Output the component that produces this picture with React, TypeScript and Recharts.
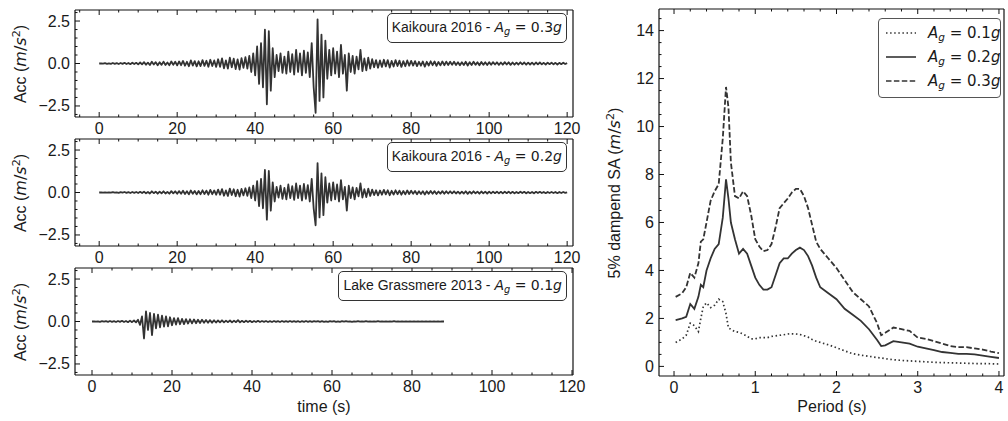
import React from "react";
import { LineChart, Line, XAxis, YAxis } from "recharts";

// sampling step of the acceleration records (s)
const DT = 0.5;

// Kaikoura 2016, scaled to PGA 0.3g (m/s^2)
const kaikoura03 = [
  0, 0.01, -0.01, 0.02, -0.02, 0.01, -0.02, 0.03, -0.02, 0.02, -0.03, 0.03, -0.02, 0.04, -0.03, 0.03, -0.04, 0.05, -0.03, 0.04, -0.05,
  0.06, -0.05, 0.08, -0.07, 0.05, -0.09, 0.1, -0.06, 0.08, -0.1, 0.07, -0.08, 0.11, -0.09, 0.06, -0.1, 0.12, -0.08, 0.1, -0.11,
  0.12, -0.1, 0.15, -0.13, 0.1, -0.16, 0.18, -0.12, 0.14, -0.17, 0.13, -0.15, 0.2, -0.14, 0.16, -0.19, 0.22, -0.15, 0.18, -0.2,
  0.25, -0.2, 0.3, -0.28, 0.18, -0.3, 0.35, -0.22, 0.28, -0.33, 0.24, -0.36, 0.32, -0.25, 0.38, -0.3,
  0.45, -0.5, 0.6, -0.7,
  1.0, -1.2, 1.2, -1.4, 2.0, -2.4, 1.9, -1.6, 0.9, -0.8,
  0.5, -0.45, 0.6, -0.55, 0.4, -0.6, 0.7, -0.5, 0.55, -0.65, 0.8, -0.5, 0.6, -0.7, 0.75, -0.55, 0.65, -0.8, 1.2, -1.4,
  -2.9, 2.6, -2.2, 1.7, -2.0, 1.35,
  -0.9, 0.8, -0.7, 0.9, -0.6, 0.7, -0.8, 1.1, -0.6, 0.5, -1.6, 0.6,
  -0.5, 0.45, -0.6, 0.4, -0.35, 0.8, -0.45, 0.3, -0.4, 0.35, -0.3, 0.25,
  -0.22, 0.2, -0.25, 0.18, -0.2, 0.22, -0.17, 0.2, -0.24, 0.15, -0.18, 0.2, -0.15, 0.17, -0.2, 0.14, -0.16, 0.18, -0.13, 0.15,
  -0.12, 0.14, -0.15, 0.1, -0.13, 0.12, -0.18, 0.1, -0.12, 0.13, -0.1, 0.12, -0.14, 0.09, -0.11, 0.12, -0.1, 0.11, -0.09, 0.1,
  -0.08, 0.1, -0.09, 0.07, -0.1, 0.08, -0.09, 0.1, -0.12, 0.08, -0.09, 0.1, -0.08, 0.07, -0.1, 0.09, -0.08, 0.07, -0.09, 0.08,
  -0.07, 0.08, -0.06, 0.07, -0.08, 0.06, -0.07, 0.08, -0.06, 0.07, -0.08, 0.06, -0.07, 0.05, -0.06, 0.07, -0.05, 0.06, -0.07, 0.05,
  -0.06, 0.05, -0.07, 0.06, -0.05, 0.06, -0.05, 0.04, -0.06, 0.05, -0.04, 0.05, -0.05, 0.04, -0.06, 0.04, -0.04, 0.05, -0.03, 0.02,
];

// Kaikoura 2016, scaled to PGA 0.2g (m/s^2)
const kaikoura02 = [
  0, 0.01, -0.01, 0.01, -0.01, 0.01, -0.01, 0.02, -0.01, 0.01, -0.02, 0.02, -0.01, 0.03, -0.02, 0.02, -0.03, 0.03, -0.02, 0.03, -0.03,
  0.04, -0.03, 0.05, -0.05, 0.03, -0.06, 0.07, -0.04, 0.05, -0.07, 0.05, -0.05, 0.07, -0.06, 0.04, -0.07, 0.08, -0.05, 0.07, -0.07,
  0.08, -0.07, 0.1, -0.09, 0.07, -0.11, 0.12, -0.08, 0.09, -0.11, 0.09, -0.1, 0.13, -0.09, 0.11, -0.13, 0.15, -0.1, 0.12, -0.13,
  0.17, -0.13, 0.2, -0.19, 0.12, -0.2, 0.23, -0.15, 0.19, -0.22, 0.16, -0.24, 0.21, -0.17, 0.25, -0.2,
  0.3, -0.33, 0.4, -0.47,
  0.67, -0.8, 0.8, -0.93, 1.33, -1.6, 1.27, -1.07, 0.6, -0.53,
  0.33, -0.3, 0.4, -0.37, 0.27, -0.4, 0.47, -0.33, 0.37, -0.43, 0.53, -0.33, 0.4, -0.47, 0.5, -0.37, 0.43, -0.53, 0.8, -0.93,
  -1.93, 1.73, -1.47, 1.13, -1.33, 0.9,
  -0.6, 0.53, -0.47, 0.6, -0.4, 0.47, -0.53, 0.73, -0.4, 0.33, -1.07, 0.4,
  -0.33, 0.3, -0.4, 0.27, -0.23, 0.53, -0.3, 0.2, -0.27, 0.23, -0.2, 0.17,
  -0.15, 0.13, -0.17, 0.12, -0.13, 0.15, -0.11, 0.13, -0.16, 0.1, -0.12, 0.13, -0.1, 0.11, -0.13, 0.09, -0.11, 0.12, -0.09, 0.1,
  -0.08, 0.09, -0.1, 0.07, -0.09, 0.08, -0.12, 0.07, -0.08, 0.09, -0.07, 0.08, -0.09, 0.06, -0.07, 0.08, -0.07, 0.07, -0.06, 0.07,
  -0.05, 0.07, -0.06, 0.05, -0.07, 0.05, -0.06, 0.07, -0.08, 0.05, -0.06, 0.07, -0.05, 0.05, -0.07, 0.06, -0.05, 0.05, -0.06, 0.05,
  -0.05, 0.05, -0.04, 0.05, -0.05, 0.04, -0.05, 0.05, -0.04, 0.05, -0.05, 0.04, -0.05, 0.03, -0.04, 0.05, -0.03, 0.04, -0.05, 0.03,
  -0.04, 0.03, -0.05, 0.04, -0.03, 0.04, -0.03, 0.03, -0.04, 0.03, -0.03, 0.03, -0.03, 0.03, -0.04, 0.03, -0.03, 0.03, -0.02, 0.01,
];

// Lake Grassmere 2013, scaled to PGA 0.1g (m/s^2)
const grassmere01 = [
  0, 0.01, -0.01, 0.01, -0.02, 0.02, -0.01, 0.02, -0.02, 0.03, -0.02, 0.02, -0.03, 0.03, -0.02, 0.04, -0.03, 0.03, -0.04, 0.05, -0.04, 0.06, -0.05,
  0.1, -0.2, 0.3,
  -1.0, 0.6, -0.5, 0.5, -0.8,
  0.45, -0.4, 0.4, -0.35, 0.35, -0.3, 0.3, -0.28, 0.25, -0.22,
  0.2, -0.18, 0.2, -0.16, 0.15, -0.15, 0.14, -0.12, 0.13, -0.11, 0.12, -0.1, 0.1, -0.09, 0.1, -0.08, 0.09, -0.07, 0.08, -0.07,
  0.07, -0.06, 0.06, -0.05, 0.07, -0.05, 0.05, -0.04, 0.06, -0.05, 0.05, -0.04, 0.08, -0.05, 0.04, -0.04, 0.05, -0.03, 0.04, -0.04,
  0.03, -0.03, 0.04, -0.03, 0.03, -0.02, 0.03, -0.03, 0.02, -0.03, 0.03, -0.02,
  0.02, -0.03, 0.03, -0.02, 0.02, -0.02, 0.03, -0.02, 0.02, -0.02, 0.02, -0.03,
  0.02, -0.02, 0.03, -0.02, 0.02, -0.02, 0.02, -0.01, 0.02, -0.02, 0.02, -0.02,
  0.01, -0.02, 0.02, -0.01, 0.02, -0.02, 0.01, -0.02, 0.02, -0.01, 0.02, -0.01,
  0.01, -0.02, 0.01, -0.01, 0.02, -0.01, 0.01, -0.01, 0.02, -0.01, 0.01, -0.01,
  0.01, -0.01, 0.02, -0.01, 0.01, -0.01, 0.01, -0.01, 0.01, -0.01, 0.02, -0.01,
  0.01, -0.01, 0.01, -0.01, 0.01, -0.01, 0.01, -0.01, 0.01, -0.01, 0.01, -0.01,
  0.01, -0.01, 0.01, -0.01, 0.01, -0.01, 0.01, -0.01, 0.01, -0.01, 0.01, 0,
];

// 5% damped response spectra (m/s^2)
const periods = [
  0.02, 0.1, 0.15, 0.2, 0.25, 0.3, 0.33, 0.36, 0.4, 0.45, 0.5, 0.55, 0.6, 0.64, 0.67, 0.7, 0.75, 0.8, 0.85, 0.9, 0.95,
  1.0, 1.05, 1.1, 1.15, 1.2, 1.25, 1.3, 1.35, 1.4, 1.45, 1.5, 1.55, 1.6, 1.65, 1.7, 1.75, 1.8, 1.9, 2.0, 2.1,
  2.2, 2.3, 2.4, 2.5, 2.55, 2.6, 2.7, 2.8, 2.9, 3.0, 3.1, 3.2, 3.3, 3.4, 3.5, 3.6, 3.7, 3.8, 3.9, 4.0,
];
const sa01 = [
  1.0, 1.15, 1.3, 1.8, 1.7, 1.45, 2.0, 2.5, 2.65, 2.45, 2.55, 2.8, 2.7, 2.2, 1.6, 1.55, 1.45, 1.42, 1.35, 1.25, 1.15,
  1.15, 1.2, 1.2, 1.2, 1.25, 1.27, 1.3, 1.32, 1.35, 1.36, 1.35, 1.33, 1.28, 1.22, 1.12, 1.05, 1.0, 0.9, 0.78, 0.65,
  0.53, 0.47, 0.42, 0.37, 0.35, 0.32, 0.28, 0.25, 0.23, 0.21, 0.19, 0.17, 0.16, 0.15, 0.14, 0.13, 0.12, 0.12, 0.11, 0.1,
];
const sa02 = [
  1.93, 2.0, 2.07, 2.6, 2.4, 2.9, 3.4, 3.3, 4.0, 4.5, 4.9, 5.1, 6.2, 7.8, 7.0, 6.0, 5.3, 4.7, 4.9, 4.7, 4.2,
  3.7, 3.4, 3.2, 3.2, 3.3, 3.8, 4.3, 4.5, 4.5, 4.7, 4.85, 4.95, 4.85, 4.6, 4.2, 3.7, 3.3, 3.05, 2.8, 2.4,
  2.15, 1.9, 1.55, 1.1, 0.85, 0.88, 1.05, 1.0, 0.95, 0.82, 0.75, 0.68, 0.6, 0.56, 0.52, 0.52, 0.5, 0.45, 0.4, 0.35,
];
const sa03 = [
  2.9, 3.05, 3.3, 3.9, 3.7, 4.3, 5.2, 5.3, 6.0, 6.9, 7.3, 7.6, 9.5, 11.65, 10.8, 8.5, 7.1, 7.0, 7.3, 7.1, 6.3,
  5.3, 5.0, 4.8, 4.85, 5.1, 5.8, 6.6, 6.8, 7.0, 7.25, 7.4, 7.4, 7.1, 6.6, 5.9, 5.2, 4.9, 4.5, 4.1, 3.6,
  3.1, 2.8, 2.5, 1.8, 1.3, 1.4, 1.62, 1.55, 1.48, 1.2, 1.15, 1.05, 0.95, 0.85, 0.8, 0.8, 0.75, 0.7, 0.62, 0.55,
];

// tick positions
const timeMajor = [0, 20, 40, 60, 80, 100, 120];
const timeMinor = [-5, 0, 5, 10, 15, 20, 25, 30, 35, 40, 45, 50, 55, 60, 65, 70, 75, 80, 85, 90, 95, 100, 105, 110, 115, 120];
const accMajor = [-2.5, 0, 2.5];
const accMinor = [-3, -2.5, -2, -1.5, -1, -0.5, 0, 0.5, 1, 1.5, 2, 2.5, 3];
const periodMajor = [0, 1, 2, 3, 4];
const periodMinor = [0, 0.2, 0.4, 0.6, 0.8, 1, 1.2, 1.4, 1.6, 1.8, 2, 2.2, 2.4, 2.6, 2.8, 3, 3.2, 3.4, 3.6, 3.8, 4];
const saMajor = [0, 2, 4, 6, 8, 10, 12, 14];
const saMinor = [
  0, 0.5, 1, 1.5, 2, 2.5, 3, 3.5, 4, 4.5, 5, 5.5, 6, 6.5, 7, 7.5, 8, 8.5, 9, 9.5, 10, 10.5, 11, 11.5, 12, 12.5, 13, 13.5, 14, 14.5,
];

const INK = "#333333";
const FRAME = "#111111";
const SANS = "'Liberation Sans', Arial, sans-serif";
const MATH = "'DejaVu Sans', sans-serif";

const toSeries = (values: number[]) => values.map((a, i) => ({ t: i * DT, a }));
const spectrum = periods.map((T, i) => ({ T, s1: sa01[i], s2: sa02[i], s3: sa03[i] }));

type Side = "bottom" | "top" | "left" | "right";

// inward ticks (matplotlib style) drawn from the axis position; labels only on bottom/left majors
function frameTick(side: Side, majors: number[], fmt?: (v: number) => string) {
  return (props: any) => {
    const { x, y, payload } = props;
    const v = Number(payload.value);
    const major = majors.some((m) => Math.abs(m - v) < 1e-6);
    const len = major ? 5 : 2.5;
    let x2 = x;
    let y2 = y;
    if (side === "bottom") y2 = y - len;
    if (side === "top") y2 = y + len;
    if (side === "left") x2 = x + len;
    if (side === "right") x2 = x - len;
    const label = fmt && major ? fmt(v) : null;
    return (
      <g>
        <line x1={x} y1={y} x2={x2} y2={y2} stroke={FRAME} strokeWidth={1} />
        {label !== null && side === "bottom" && (
          <text x={x} y={y + 17} textAnchor="middle" fill="#1a1a1a" fontSize={16} fontFamily={SANS}>
            {label}
          </text>
        )}
        {label !== null && side === "left" && (
          <text x={x - 5} y={y + 5.5} textAnchor="end" fill="#1a1a1a" fontSize={16} fontFamily={SANS}>
            {label}
          </text>
        )}
      </g>
    );
  };
}

const fmtAcc = (v: number) => v.toFixed(1).replace("-", "\u2212");
const fmtInt = (v: number) => String(v);
const axisLine = { stroke: FRAME, strokeWidth: 1.2 };

// four axes framing the plot; each is 1px thick so the plot area is the margin box shrunk by 1px
function frameAxes(
  xKey: string,
  xDomain: [number, number],
  xTicks: number[],
  xMajor: number[],
  xFmt: (v: number) => string,
  yDomain: [number, number],
  yTicks: number[],
  yMajor: number[],
  yFmt: (v: number) => string
) {
  const common = { tickLine: false, tickSize: 0, tickMargin: 0, interval: 0 as const, axisLine };
  return [
    <XAxis key="xb" xAxisId="b" orientation="bottom" type="number" dataKey={xKey} domain={xDomain} ticks={xTicks} height={1} tick={frameTick("bottom", xMajor, xFmt)} {...common} />,
    <XAxis key="xt" xAxisId="t" orientation="top" type="number" dataKey={xKey} domain={xDomain} ticks={xTicks} height={1} tick={frameTick("top", xMajor)} {...common} />,
    <YAxis key="yl" yAxisId="l" orientation="left" type="number" domain={yDomain} ticks={yTicks} width={1} tick={frameTick("left", yMajor, yFmt)} {...common} />,
    <YAxis key="yr" yAxisId="r" orientation="right" type="number" domain={yDomain} ticks={yTicks} width={1} tick={frameTick("right", yMajor)} {...common} />,
  ];
}

const Ag = ({ v }: { v: string }) => (
  <span style={{ fontFamily: MATH, whiteSpace: "nowrap" }}>
    <i>A</i>
    <i style={{ fontSize: "0.7em", position: "relative", top: "0.3em" }}>g</i>
    {" = "}
    {v}
    <i>g</i>
  </span>
);

const AccLabel = ({ cy }: { cy: number }) => (
  <div
    style={{
      position: "absolute",
      left: 20,
      top: cy,
      transform: "translate(-50%, -50%) rotate(-90deg)",
      whiteSpace: "nowrap",
      fontSize: 16,
      color: "#1a1a1a",
    }}
  >
    Acc (<i style={{ fontFamily: MATH }}>m</i>
    <span style={{ fontFamily: MATH }}>/</span>
    <i style={{ fontFamily: MATH }}>s</i>
    <sup style={{ fontSize: "0.7em", fontFamily: MATH }}>2</sup>)
  </div>
);

const RecordBox = ({ top, title, ag }: { top: number; title: string; ag: string }) => (
  <div
    style={{
      position: "absolute",
      right: 1008 - 567,
      top,
      padding: "3px 4px",
      border: `1px solid ${INK}`,
      borderRadius: 5,
      background: "#fff",
      fontSize: 14,
      lineHeight: "20px",
      color: "#1a1a1a",
      whiteSpace: "nowrap",
    }}
  >
    {title} - <Ag v={ag} />
  </div>
);

const panels = [
  { top: 10, data: toSeries(kaikoura03), xDomain: [-6.2, 121.5] as [number, number], title: "Kaikoura 2016", ag: "0.3" },
  { top: 139, data: toSeries(kaikoura02), xDomain: [-6.2, 121.5] as [number, number], title: "Kaikoura 2016", ag: "0.2" },
  { top: 268, data: toSeries(grassmere01), xDomain: [-4.25, 120.25] as [number, number], title: "Lake Grassmere 2013", ag: "0.1" },
];

const legendRows = [
  { label: "0.1", dash: "1.5 2.6" },
  { label: "0.2", dash: undefined },
  { label: "0.3", dash: "5.5 2.4" },
];

export default function App() {
  return (
    <div
      style={{
        position: "absolute",
        left: 0,
        top: 0,
        width: 1008,
        height: 421,
        background: "#fff",
        fontFamily: SANS,
        overflow: "hidden",
      }}
    >
      {panels.map((p, k) => (
        <div key={k} style={{ position: "absolute", left: 0, top: p.top - 10 }}>
          <LineChart width={600} height={147} data={p.data} margin={{ top: 9, right: 26, bottom: 29, left: 74 }}>
            {frameAxes(
              "t",
              p.xDomain,
              p.xDomain[0] < -5 ? timeMinor : timeMinor.slice(1),
              timeMajor,
              fmtInt,
              [-3.15, 3.15],
              accMinor,
              accMajor,
              fmtAcc
            )}
            <Line
              xAxisId="b"
              yAxisId="l"
              type="linear"
              dataKey="a"
              stroke={INK}
              strokeWidth={1.8}
              strokeLinejoin="round"
              dot={false}
              isAnimationActive={false}
            />
          </LineChart>
        </div>
      ))}
      {panels.map((p, k) => (
        <RecordBox key={"box" + k} top={p.top + 3} title={p.title} ag={p.ag} />
      ))}
      {panels.map((p, k) => (
        <AccLabel key={"acc" + k} cy={p.top + 53.5} />
      ))}
      <div style={{ position: "absolute", left: 324, top: 407, transform: "translate(-50%, -50%)", fontSize: 16, color: "#1a1a1a" }}>
        time (s)
      </div>

      <div style={{ position: "absolute", left: 600, top: 0 }}>
        <LineChart width={408} height={421} data={spectrum} margin={{ top: 8, right: 3, bottom: 44, left: 58 }}>
          {frameAxes("T", [-0.185, 4.062], periodMinor, periodMajor, fmtInt, [-0.4, 14.9], saMinor, saMajor, fmtInt)}
          <Line xAxisId="b" yAxisId="l" type="linear" dataKey="s1" stroke={INK} strokeWidth={1.7} strokeDasharray="1.5 2.6" dot={false} isAnimationActive={false} />
          <Line xAxisId="b" yAxisId="l" type="linear" dataKey="s2" stroke={INK} strokeWidth={1.8} dot={false} isAnimationActive={false} />
          <Line xAxisId="b" yAxisId="l" type="linear" dataKey="s3" stroke={INK} strokeWidth={1.8} strokeDasharray="5.5 2.4" dot={false} isAnimationActive={false} />
        </LineChart>
      </div>
      <div
        style={{
          position: "absolute",
          left: 614,
          top: 193,
          transform: "translate(-50%, -50%) rotate(-90deg)",
          whiteSpace: "nowrap",
          fontSize: 16,
          color: "#1a1a1a",
        }}
      >
        5% dampend SA (<i style={{ fontFamily: MATH }}>m</i>
        <span style={{ fontFamily: MATH }}>/</span>
        <i style={{ fontFamily: MATH }}>s</i>
        <sup style={{ fontSize: "0.7em", fontFamily: MATH }}>2</sup>)
      </div>
      <div style={{ position: "absolute", left: 832, top: 407, transform: "translate(-50%, -50%)", fontSize: 16, color: "#1a1a1a" }}>
        Period (s)
      </div>

      <div
        style={{
          position: "absolute",
          left: 878,
          top: 18,
          width: 123,
          height: 80,
          border: "1px solid #555",
          borderRadius: 4,
          background: "#fff",
          paddingTop: 2,
          boxSizing: "border-box",
        }}
      >
        {legendRows.map((r) => (
          <div key={r.label} style={{ display: "flex", alignItems: "center", height: 24, fontSize: 15, color: "#1a1a1a", whiteSpace: "nowrap" }}>
            <svg width={43} height={10} style={{ marginLeft: 6, flexShrink: 0 }}>
              <line x1={1} x2={31} y1={5} y2={5} stroke={INK} strokeWidth={1.6} strokeDasharray={r.dash} />
            </svg>
            <Ag v={r.label} />
          </div>
        ))}
      </div>
    </div>
  );
}
